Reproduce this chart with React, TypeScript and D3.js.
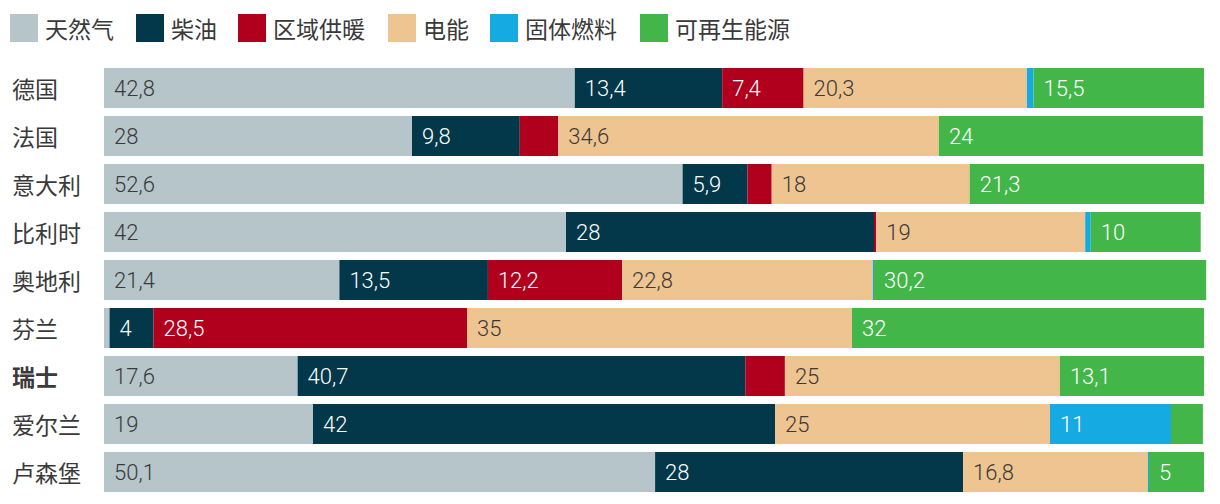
import React from "react";
import * as d3 from "d3";

const countries = ["德国", "法国", "意大利", "比利时", "奥地利", "芬兰", "瑞士", "爱尔兰", "卢森堡"];
const boldCountries = ["瑞士"];
const seriesNames = ["天然气", "柴油", "区域供暖", "电能", "固体燃料", "可再生能源"];
const seriesColors = ["#b5c5c9", "#023849", "#b0001e", "#eec490", "#15aae1", "#43b649"];
const labelColors = ["#3a3a3a", "#ffffff", "#ffffff", "#3a3a3a", "#ffffff", "#ffffff"];

const gas = [42.8, 28, 52.6, 42, 21.4, 0.5, 17.6, 19, 50.1];
const oil = [13.4, 9.8, 5.9, 28, 13.5, 4, 40.7, 42, 28];
const districtHeating = [7.4, 3.5, 2.2, 0.2, 12.2, 28.5, 3.6, 0, 0];
const electricity = [20.3, 34.6, 18, 19, 22.8, 35, 25, 25, 16.8];
const solidFuel = [0.6, 0, 0, 0.5, 0.1, 0, 0, 11, 0.1];
const renewables = [15.5, 24, 21.3, 10, 30.2, 32, 13.1, 2.9, 5];

const series = [gas, oil, districtHeating, electricity, solidFuel, renewables];

const W = 1220;
const H = 504;
const font = "'Noto Sans CJK SC', 'Noto Sans', sans-serif";
const numFont = "Roboto, 'Liberation Sans', sans-serif";

export default function App() {
  const x = d3.scaleLinear().domain([0, 100]).range([104, 1204]);
  const y = d3.scaleBand().domain(countries).range([64, 64 + 48 * countries.length]).paddingInner(8 / 48).paddingOuter(4 / 48);

  const rows = countries.map((c, i) => {
    let acc = 0;
    return series.map((s, k) => {
      const v = s[i];
      const x0 = acc;
      acc += v;
      return { k, v, x0, x1: acc };
    });
  });

  const legendX = [10, 136, 238, 388, 490, 640];
  const fmt = (v: number) => String(v).replace(".", ",");

  return (
    <svg width={W} height={H} style={{ display: "block", position: "absolute", left: 0, top: 0 }} fontFamily={font}>
      <rect width={W} height={H} fill="#ffffff" />
      {seriesNames.map((n, k) => (
        <g key={n}>
          <rect x={legendX[k]} y={14} width={28} height={28} fill={seriesColors[k]} />
          <text x={legendX[k] + 35} y={28} dominantBaseline="central" fontSize={23} fill="#3a3a3a">{n}</text>
        </g>
      ))}
      {countries.map((c, i) => {
        const y0 = y(c)!;
        const bh = y.bandwidth();
        return (
          <g key={c}>
            <text x={12} y={y0 + bh / 2} dominantBaseline="central" fontSize={23} fill="#3a3a3a" fontWeight={boldCountries.includes(c) ? 700 : 400}>{c}</text>
            {rows[i].map((seg) => seg.v > 0 ? (
              <rect key={seg.k} x={x(seg.x0)} y={y0} width={x(seg.x1) - x(seg.x0)} height={bh} fill={seriesColors[seg.k]} />
            ) : null)}
            {rows[i].map((seg) => seg.v >= 4 ? (
              <text key={"t" + seg.k} x={x(seg.x0) + 10} y={y0 + bh / 2 + 8} fontFamily={numFont} fontSize={22} fontWeight={300} fill={labelColors[seg.k]}>{fmt(seg.v)}</text>
            ) : null)}
          </g>
        );
      })}
    </svg>
  );
}
